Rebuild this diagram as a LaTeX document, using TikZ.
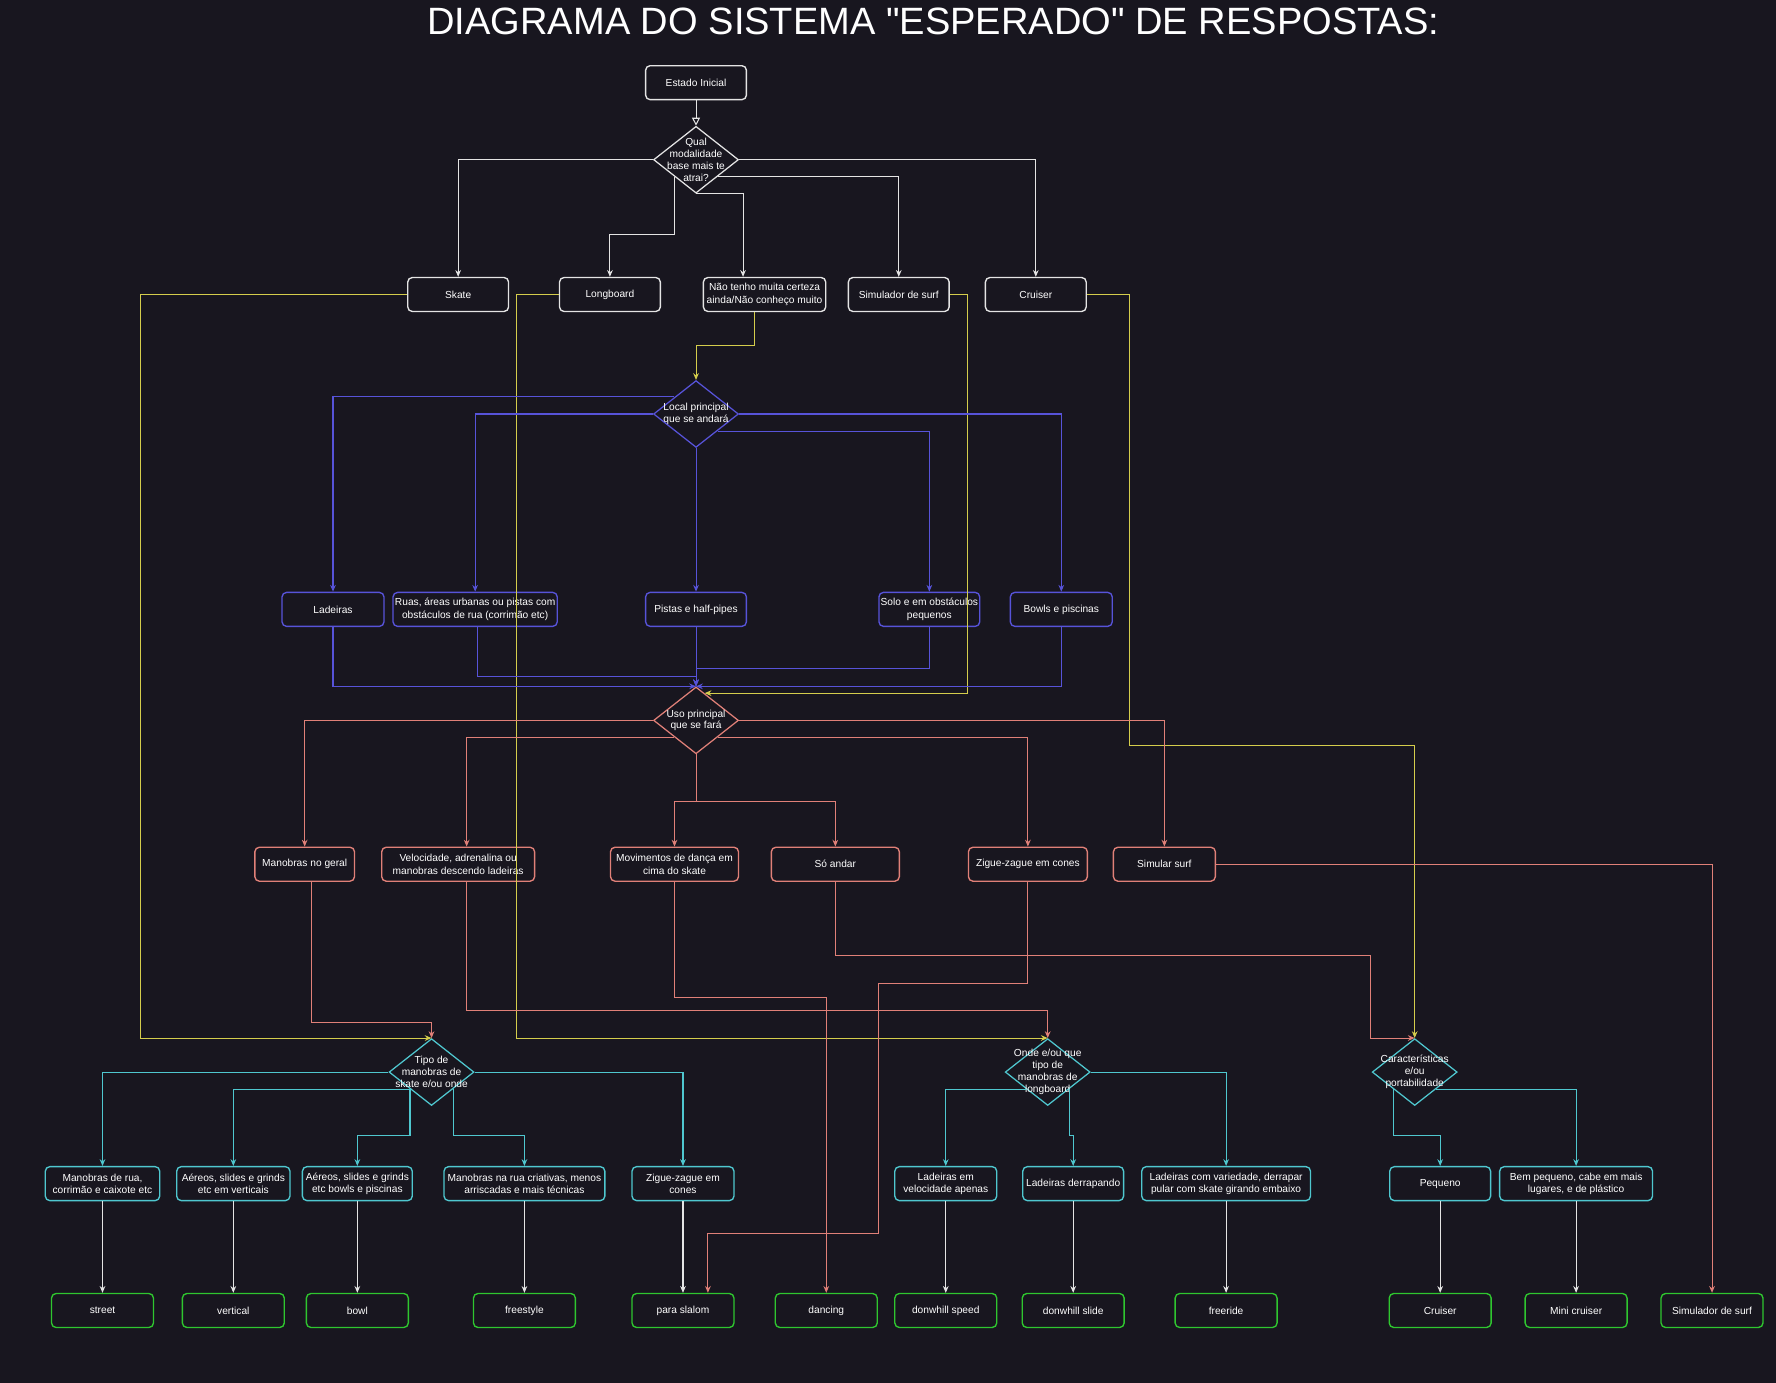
\documentclass[tikz,border=0pt]{standalone}
\usepackage{fontspec}
\setmainfont{Liberation Sans}[Ligatures=TeXOff]
\usetikzlibrary{shapes.geometric,arrows.meta,calc}

\definecolor{bgdark}{HTML}{18161F}
\definecolor{lwhite}{HTML}{E4E4E4}
\definecolor{lyellow}{HTML}{D4CD4C}
\definecolor{lblue}{HTML}{5753D9}
\definecolor{lsalmon}{HTML}{E08078}
\definecolor{lteal}{HTML}{4FC7CF}
\definecolor{lgreen}{HTML}{2FC62F}

\begin{document}
\begin{tikzpicture}[x=1pt, y=-1pt,
    box/.style={draw, line width=1.2pt, rounded corners=4pt, minimum height=30pt, inner xsep=1pt, align=center, text=white, font=\fontsize{9}{11}\selectfont},
    wbox/.style={box, draw=lwhite},
    bbox/.style={box, draw=lblue},
    sbox/.style={box, draw=lsalmon},
    tbox/.style={box, draw=lteal},
    gbox/.style={box, draw=lgreen, minimum width=90pt},
    dec/.style={diamond, draw=#1, line width=1.1pt, minimum width=75pt, minimum height=59pt, inner sep=0pt},
    dtext/.style={text=white, align=center, inner sep=0pt, font=\fontsize{9}{10.5}\selectfont},
    conn/.style={line width=0.9pt, draw=#1, -{Stealth[length=6pt,width=5pt]}},
    wline/.style={conn=lwhite},
    yline/.style={conn=lyellow},
    bline/.style={conn=lblue},
    sline/.style={conn=lsalmon},
    tline/.style={conn=lteal}]

    % Background and title
    \fill[bgdark] (0,0) rectangle (1568,1221);
    \node[text=white, font=\fontsize{33.6}{36}\selectfont] (title) at (824,19) {DIAGRAMA DO SISTEMA "ESPERADO" DE RESPOSTAS:};

    % Draw start and first question
    \node[wbox, minimum width=89pt] (start) at (614.5,73) {Estado Inicial};
    \node[dec=lwhite, label={[dtext]center:Qual\\modalidade\\base mais te\\atrai?}] (qual) at (614.5,141) {};

    % Draw nodes for the modalities
    \node[wbox, minimum width=89pt] (skate) at (404.5,260) {Skate};
    \node[wbox, minimum width=89pt] (longboard) at (538.5,260) {Longboard};
    \node[wbox, minimum width=108pt] (nao) at (675,260) {Não tenho muita certeza\\ainda/Não conheço muito};
    \node[wbox, minimum width=89pt] (simsurf) at (793.5,260) {Simulador de surf};
    \node[wbox, minimum width=89pt] (cruiser) at (914.5,260) {Cruiser};

    % Draw nodes for the place question
    \node[dec=lblue, label={[dtext]center:Local principal\\que se andará}] (lugar) at (614.5,365.5) {};
    \node[bbox, minimum width=90pt] (ladeiras) at (294,538) {Ladeiras};
    \node[bbox, minimum width=145pt] (ruas) at (419.5,538) {Ruas, áreas urbanas ou pistas com\\obstáculos de rua (corrimão etc)};
    \node[bbox, minimum width=89pt] (pistas) at (614.5,538) {Pistas e half-pipes};
    \node[bbox, minimum width=89pt] (solo) at (820.5,538) {Solo e em obstáculos\\pequenos};
    \node[bbox, minimum width=90pt] (bowls) at (937,538) {Bowls e piscinas};

    % Draw nodes for the use question
    \node[dec=lsalmon, label={[dtext]center:Uso principal\\que se fará}] (uso) at (614.5,636) {};
    \node[sbox, minimum width=88pt] (manobras) at (269,763) {Manobras no geral};
    \node[sbox, minimum width=135pt] (velocidade) at (404.5,763) {Velocidade, adrenalina ou\\manobras descendo ladeiras};
    \node[sbox, minimum width=113pt] (movimentos) at (595.5,763) {Movimentos de dança em\\cima do skate};
    \node[sbox, minimum width=113pt] (soandar) at (737.5,763) {Só andar};
    \node[sbox, minimum width=105pt] (zigue) at (907.5,763) {Zigue-zague em cones};
    \node[sbox, minimum width=90pt] (simular) at (1028,763) {Simular surf};

    % Draw the three detail questions
    \node[dec=lteal, label={[dtext]center:Tipo de\\manobras de\\skate e/ou onde}] (tipo) at (381,946.5) {};
    \node[dec=lteal, label={[dtext]center:Onde e/ou que\\tipo de\\manobras de\\longboard}] (onde) at (925,946.5) {};
    \node[dec=lteal, label={[dtext]center:Características\\e/ou\\portabilidade}] (carac) at (1249,946.5) {};

    % Draw nodes for the answers
    \node[tbox, minimum width=101pt] (rua) at (90.5,1045) {Manobras de rua,\\corrimão e caixote etc};
    \node[tbox, minimum width=100pt] (aereosv) at (206,1045) {Aéreos, slides e grinds\\etc em verticais};
    \node[tbox, minimum width=97pt] (aereosb) at (315.5,1045) {Aéreos, slides e grinds\\etc bowls e piscinas};
    \node[tbox, minimum width=142pt] (criativas) at (463,1045) {Manobras na rua criativas, menos\\arriscadas e mais técnicas};
    \node[tbox, minimum width=90pt] (ziguecones) at (603,1045) {Zigue-zague em\\cones};
    \node[tbox, minimum width=90pt] (ladvel) at (835,1045) {Ladeiras em\\velocidade apenas};
    \node[tbox, minimum width=89pt] (ladder) at (947.5,1045) {Ladeiras derrapando};
    \node[tbox, minimum width=149pt] (ladvar) at (1082.5,1045) {Ladeiras com variedade, derrapar\\pular com skate girando embaixo};
    \node[tbox, minimum width=89pt] (pequeno) at (1271.5,1045) {Pequeno};
    \node[tbox, minimum width=135pt] (bempeq) at (1391.5,1045) {Bem pequeno, cabe em mais\\lugares, e de plástico};

    % Draw nodes for the results
    \node[gbox] (street) at (90.5,1157) {street};
    \node[gbox] (vertical) at (206,1157) {vertical};
    \node[gbox] (bowl) at (315.5,1157) {bowl};
    \node[gbox] (freestyle) at (463,1157) {freestyle};
    \node[gbox] (slalom) at (603,1157) {para slalom};
    \node[gbox] (dancing) at (729.5,1157) {dancing};
    \node[gbox] (speed) at (835,1157) {donwhill speed};
    \node[gbox] (slide) at (947.5,1157) {donwhill slide};
    \node[gbox] (freeride) at (1082.5,1157) {freeride};
    \node[gbox] (cruiserleaf) at (1271.5,1157) {Cruiser};
    \node[gbox] (minicruiser) at (1391.5,1157) {Mini cruiser};
    \node[gbox] (simleaf) at (1511.5,1157) {Simulador de surf};

    % Draw edges from the first question
    \draw[line width=0.9pt, lwhite, -{Triangle[open,length=7pt,width=7pt]}] (start) -- (qual);
    \draw[wline] (qual.west) -| (skate.north);
    \draw[wline] (qual.south west) |- ([yshift=37pt]longboard.north) -- (longboard.north);
    \draw[wline] (qual.south) -| ([xshift=-19pt]nao.north);
    \draw[wline] (qual.south east) -| (simsurf.north);
    \draw[wline] (qual.east) -| (cruiser.north);

    % Yellow edges out of the modalities
    \draw[yline] (skate.west) -- ++(-235.5,0) |- (tipo.north);
    \draw[yline] (longboard.west) -- ++(-37,0) |- (onde.north);
    \draw[yline] ([xshift=-8.5pt]nao.south) |- ([yshift=30pt]lugar.north) -- (lugar.north);
    \draw[yline] (simsurf.east) -- ++(16,0) |- ($(uso.north)!0.2!(uso.east)$);
    \draw[yline] (cruiser.east) -- ++(38,0) |- ([yshift=258pt]carac.north) -- (carac.north);

    % Blue edges for the place question
    \draw[bline] (lugar.north west) -| (ladeiras.north);
    \draw[bline] (lugar.west) -| (ruas.north);
    \draw[bline] (lugar.south) -- (pistas.north);
    \draw[bline] (lugar.south east) -| (solo.north);
    \draw[bline] (lugar.east) -| (bowls.north);
    \draw[bline] (ladeiras.south) |- (uso.north);
    \draw[bline] ([xshift=2pt]ruas.south) |- ([yshift=9pt]uso.north) -- (uso.north);
    \draw[bline] (pistas.south) -- (uso.north);
    \draw[bline] (solo.south) |- ([yshift=16pt]uso.north) -- (uso.north);
    \draw[bline] (bowls.south) |- (uso.north);

    % Salmon edges for the use question
    \draw[sline] (uso.west) -| (manobras.north);
    \draw[sline] (uso.south west) -| ([xshift=7.5pt]velocidade.north);
    \draw[sline] (uso.south) -- ++(0,42) -| (movimentos.north);
    \draw[sline] (uso.south) -- ++(0,42) -| (soandar.north);
    \draw[sline] (uso.south east) -| (zigue.north);
    \draw[sline] (uso.east) -| (simular.north);
    \draw[sline] ([xshift=6pt]manobras.south) |- ([yshift=14pt]tipo.north) -- (tipo.north);
    \draw[sline] ([xshift=7.5pt]velocidade.south) |- ([yshift=24pt]onde.north) -- (onde.north);
    \draw[sline] (movimentos.south) -- ++(0,102) -| (dancing.north);
    \draw[sline] (soandar.south) -- ++(0,65) -| ([xshift=-39pt]carac.north) -- (carac.north);
    \draw[sline] (zigue.south) -- ++(0,90) -| ([xshift=173pt,yshift=52pt]slalom.north) -| ([xshift=22pt]slalom.north);
    \draw[sline] (simular.east) -| (simleaf.north);

    % Teal edges for the detail questions
    \draw[tline] (tipo.west) -| (rua.north);
    \draw[tline] (tipo.south west) -| (aereosv.north);
    \draw[tline] (tipo.south west) |- ([yshift=27pt]aereosb.north) -- (aereosb.north);
    \draw[tline] (tipo.south east) |- ([yshift=27pt]criativas.north) -- (criativas.north);
    \draw[tline] (tipo.east) -| (ziguecones.north);
    \draw[tline] (onde.south west) -| (ladvel.north);
    \draw[tline] (onde.south east) |- ([yshift=27pt]ladder.north) -- (ladder.north);
    \draw[tline] (onde.east) -| (ladvar.north);
    \draw[tline] (carac.south west) |- ([yshift=27pt]pequeno.north) -- (pequeno.north);
    \draw[tline] (carac.south east) -| (bempeq.north);

    % White edges to the results
    \draw[wline] (rua) -- (street);
    \draw[wline] (aereosv) -- (vertical);
    \draw[wline] (aereosb) -- (bowl);
    \draw[wline] (criativas) -- (freestyle);
    \draw[wline] (ziguecones) -- (slalom);
    \draw[wline] (ladvel) -- (speed);
    \draw[wline] (ladder) -- (slide);
    \draw[wline] (ladvar) -- (freeride);
    \draw[wline] (pequeno) -- (cruiserleaf);
    \draw[wline] (bempeq) -- (minicruiser);

\end{tikzpicture}
\end{document}
